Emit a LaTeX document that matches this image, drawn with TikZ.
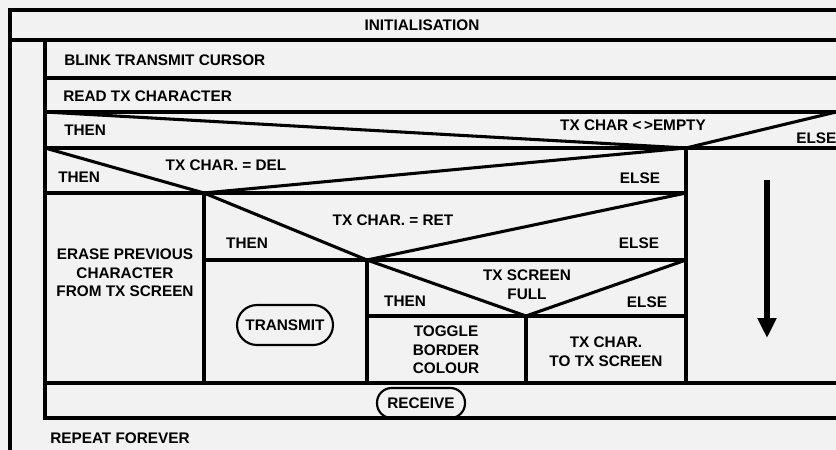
\documentclass[tikz,border=0pt]{standalone}
\usepackage{fontspec}
\setmainfont{Liberation Sans}
\usetikzlibrary{arrows.meta}
\begin{document}
\begin{tikzpicture}[x=0.75pt,y=-0.75pt,
  rule/.style={line width=2.3pt, line cap=rect, line join=miter},
  lbl/.style={font=\fontsize{11.5}{14}\selectfont\bfseries, inner sep=0pt, align=center},
  pill/.style={lbl, draw, line width=1.6pt, rounded corners=#1},
  bigarrow/.style={line width=4.5pt, -{Triangle[length=15pt,width=13.5pt]}}
]
\fill[black!5] (0,0) rectangle (836,450);
\useasboundingbox (0,0) rectangle (836,450);

% key points
\coordinate (oTL) at (10,10);   \coordinate (oTR) at (836,10);
\coordinate (iL) at (10,40);    \coordinate (iR) at (836,40);
\coordinate (oBL) at (10,450);
\coordinate (lTL) at (45,40);   \coordinate (lBL) at (45,418); \coordinate (lBR) at (836,418);
\coordinate (a1) at (45,78);    \coordinate (a2) at (836,78);
\coordinate (b1) at (45,112);   \coordinate (b2) at (836,112);
\coordinate (c1) at (45,148);   \coordinate (c2) at (686,148); \coordinate (c3) at (836,148);
\coordinate (d1) at (204,193);  \coordinate (d2) at (686,193); \coordinate (d0) at (45,193);
\coordinate (e1) at (367,260);  \coordinate (e0) at (204,260); \coordinate (e2) at (686,260);
\coordinate (f1) at (526,316);  \coordinate (f0) at (367,316); \coordinate (f2) at (686,316);
\coordinate (g0) at (45,383);   \coordinate (g1) at (204,383); \coordinate (g2) at (367,383);
\coordinate (g3) at (526,383);  \coordinate (g4) at (686,383); \coordinate (g5) at (836,383);

% frame
\draw[rule] (oTR) -- (oTL) -- (oBL);
\draw[rule] (iL) -- (iR);
\draw[rule] (lTL) -- (lBL) -- (lBR);
\draw[rule] (a1) -- (a2);
\draw[rule] (b1) -- (b2);
\draw[rule] (c1) -- (c3);
\draw[rule] (d0) -- (d1) -- (d2);
\draw[rule] (e0) -- (e2);
\draw[rule] (f0) -- (f2);
\draw[rule] (g0) -- (g5);
% verticals
\draw[rule] (c2) -- (g4);
\draw[rule] (d1) -- (g1);
\draw[rule] (e1) -- (g2);
\draw[rule] (f1) -- (g3);
% decision diagonals
\draw[rule] (b1) -- (c2) -- (b2);
\draw[rule] (c1) -- (d1) -- (c2);
\draw[rule] (d1) -- (e1) -- (d2);
\draw[rule] (e1) -- (f1) -- (e2);

% texts
\node[lbl] (init) at (422,25) {INITIALISATION};
\node[lbl, anchor=west] (blink) at (64,60) {BLINK TRANSMIT CURSOR};
\node[lbl, anchor=west] (read) at (63,96) {READ TX CHARACTER};
\node[lbl, anchor=west] (then1) at (64,130) {THEN};
\node[lbl] (cond1) at (633,125) {TX CHAR {<}\,{>}EMPTY};
\node[lbl, anchor=west] (else1) at (796,138) {ELSE};
\node[lbl, anchor=west] (then2) at (58,177) {THEN};
\node[lbl] (cond2) at (226,165) {TX CHAR. = DEL};
\node[lbl] (else2) at (640,178) {ELSE};
\node[lbl] (erase) at (125,273) {ERASE PREVIOUS\\CHARACTER\\FROM TX SCREEN};
\node[lbl] (then3) at (247,243) {THEN};
\node[lbl] (cond3) at (393,220) {TX CHAR. = RET};
\node[lbl] (else3) at (639,243) {ELSE};
\node[pill=15pt, minimum width=72pt, minimum height=30pt] (transmit) at (285,325) {TRANSMIT};
\node[lbl] (cond4) at (527,285) {TX SCREEN\\FULL};
\node[lbl] (then4) at (405,301) {THEN};
\node[lbl] (else4) at (647,302) {ELSE};
\node[lbl] (toggle) at (446,350) {TOGGLE\\BORDER\\COLOUR};
\node[lbl] (txchar) at (606,352) {TX CHAR.\\TO TX SCREEN};
\node[pill=11pt, minimum width=66pt, minimum height=22.5pt] (receive) at (421,403) {RECEIVE};
\node[lbl, anchor=west] (repeat) at (50,438) {REPEAT FOREVER};

% flow arrow
\coordinate (arrTop) at (767,180);
\coordinate (arrTip) at (767,338);
\draw[bigarrow] (arrTop) -- (arrTip);
\end{tikzpicture}
\end{document}
